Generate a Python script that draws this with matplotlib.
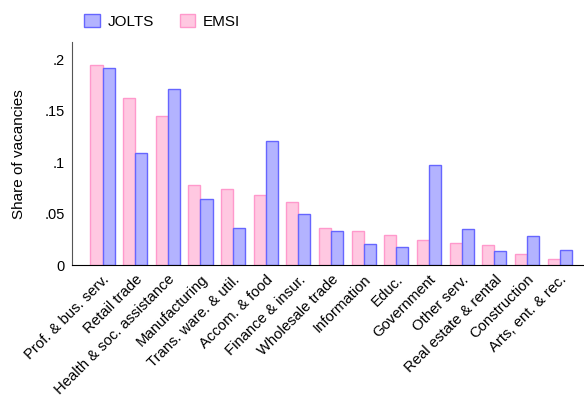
import matplotlib.pyplot as plt
import numpy as np

plt.rcParams['font.family'] = ['Liberation Sans', 'DejaVu Sans']

industries = ["Prof. & bus. serv.", "Retail trade", "Health & soc. assistance",
              "Manufacturing", "Trans. ware. & util.", "Accom. & food",
              "Finance & insur.", "Wholesale trade", "Information", "Educ.",
              "Government", "Other serv.", "Real estate & rental",
              "Construction", "Arts, ent. & rec."]
emsi = [0.195, 0.163, 0.145, 0.078, 0.074, 0.068, 0.062, 0.036, 0.033, 0.030,
        0.025, 0.022, 0.020, 0.011, 0.006]
jolts = [0.192, 0.109, 0.171, 0.065, 0.036, 0.121, 0.050, 0.033, 0.021, 0.018,
         0.098, 0.035, 0.014, 0.029, 0.015]

x = np.arange(len(industries))
w = 0.37

fig = plt.figure(figsize=(5.84, 4.04), dpi=100)
ax = fig.add_axes([0.123, 0.343, 0.876, 0.553])

b_emsi = ax.bar(x - w / 2, emsi, w, color="#ffc8e1", edgecolor="#ff99cc", linewidth=1)
b_jolts = ax.bar(x + w / 2, jolts, w, color="#b3b3ff", edgecolor="#6666ff", linewidth=1)

ax.set_xlim(-0.94, 14.73)
ax.set_ylim(0, 0.217)
ax.set_yticks([0, 0.05, 0.1, 0.15, 0.2])
ax.set_yticklabels(["0", ".05", ".1", ".15", ".2"], fontsize=10.5)
ax.set_xticks(x)
ax.set_xticklabels(industries, rotation=45, ha="right", rotation_mode="anchor", fontsize=10.7)
ax.tick_params(length=0, pad=5)
ax.set_ylabel("Share of vacancies", fontsize=11, labelpad=13)

for s in ["top", "right"]:
    ax.spines[s].set_visible(False)
ax.spines["left"].set_color("#555555")

fig.legend([b_jolts, b_emsi], ["JOLTS", "EMSI"], loc="upper left",
           bbox_to_anchor=(0.121, 1.0), ncol=2, frameon=False, fontsize=11,
           handlelength=1.0, handleheight=1.0, handletextpad=0.5,
           columnspacing=1.7)

fig.savefig("out.png", dpi=100)
